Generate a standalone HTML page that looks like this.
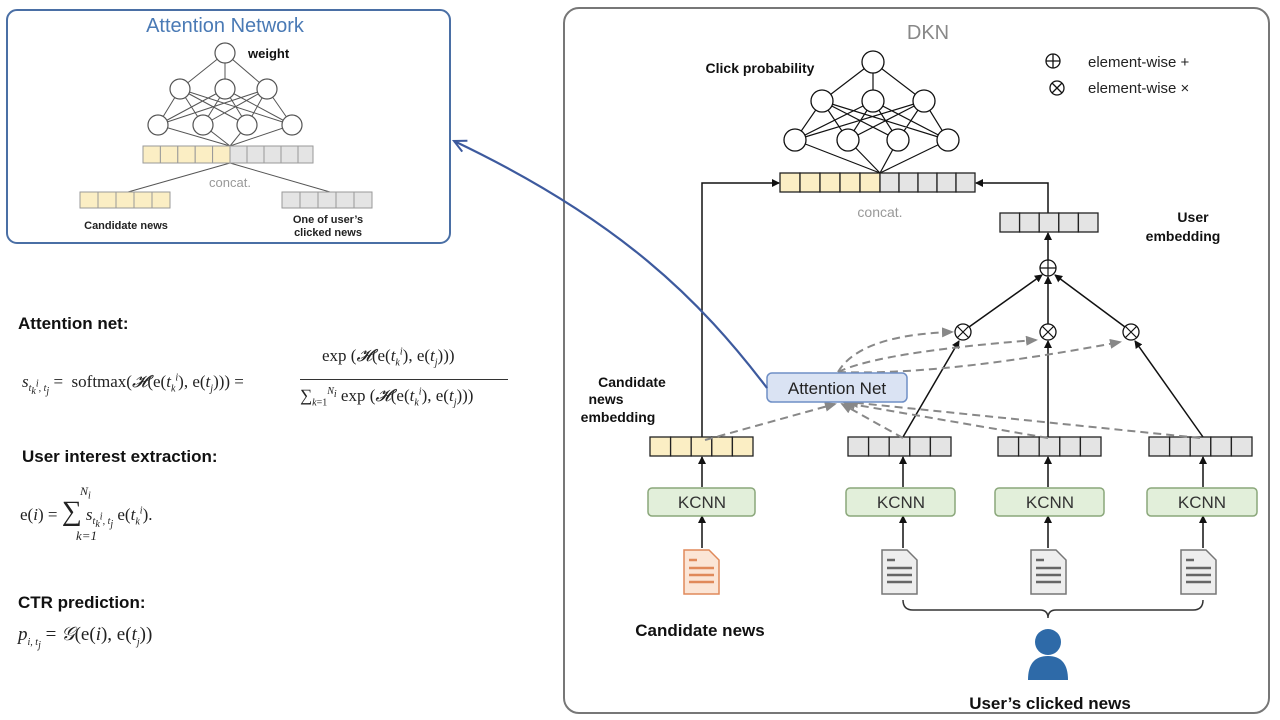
<!DOCTYPE html>
<html><head><meta charset="utf-8"><style>
body{margin:0;width:1280px;height:720px;background:#fff;position:relative;overflow:hidden;font-family:"Liberation Sans",sans-serif}
.f{position:absolute;font-family:"Liberation Serif",serif;color:#222;white-space:nowrap}
.h{position:absolute;font-weight:bold;font-size:17px;color:#111;white-space:nowrap}
sub,sup{font-size:10px}
</style></head><body>
<svg width="1280" height="720" style="position:absolute;left:0;top:0" font-family="Liberation Sans, sans-serif">
<defs>
<marker id="a" markerWidth="8" markerHeight="8" refX="7" refY="4" orient="auto" markerUnits="userSpaceOnUse"><path d="M0,0 L8,4 L0,8z" fill="#111"/></marker>
<marker id="g" markerWidth="12" markerHeight="10" refX="10" refY="5" orient="auto" markerUnits="userSpaceOnUse"><path d="M0,0 L12,5 L0,10z" fill="#888"/></marker>
<marker id="b" markerWidth="16" markerHeight="14" refX="13" refY="7" orient="auto" markerUnits="userSpaceOnUse"><path d="M1,1 L13,7 L1,13" fill="none" stroke="#3d5a9e" stroke-width="2"/></marker>
</defs>
<rect x="7" y="10" width="443" height="233" rx="10" fill="#fff" stroke="#4a6fa5" stroke-width="2"/>
<text x="225" y="32" text-anchor="middle" font-size="20" fill="#4a7ab5">Attention Network</text>
<g stroke="#555" stroke-width="1" fill="none">
<path d="M225,53 L180,89 M225,53 L225,89 M225,53 L267,89"/>
<path d="M180,89 L158,125 M180,89 L203,125 M180,89 L247,125 M180,89 L292,125 M225,89 L158,125 M225,89 L203,125 M225,89 L247,125 M225,89 L292,125 M267,89 L158,125 M267,89 L203,125 M267,89 L247,125 M267,89 L292,125"/>
<path d="M158,125 L230,146 M203,125 L230,146 M247,125 L230,146 M292,125 L230,146"/>
<path d="M128,192 L230,163 M330,192 L230,163"/>
</g>
<g fill="#fff" stroke="#555" stroke-width="1.2">
<circle cx="225" cy="53" r="10"/><circle cx="180" cy="89" r="10"/><circle cx="225" cy="89" r="10"/><circle cx="267" cy="89" r="10"/>
<circle cx="158" cy="125" r="10"/><circle cx="203" cy="125" r="10"/><circle cx="247" cy="125" r="10"/><circle cx="292" cy="125" r="10"/>
</g>
<text x="248" y="58" font-size="13" font-weight="bold" fill="#111">weight</text>
<g stroke="#999" stroke-width="1">
<rect x="143" y="146" width="17.4" height="17" fill="#fbeec4"/><rect x="160.4" y="146" width="17.4" height="17" fill="#fbeec4"/><rect x="177.8" y="146" width="17.4" height="17" fill="#fbeec4"/><rect x="195.2" y="146" width="17.4" height="17" fill="#fbeec4"/><rect x="212.6" y="146" width="17.4" height="17" fill="#fbeec4"/>
<rect x="230" y="146" width="17" height="17" fill="#e4e4e4"/><rect x="247" y="146" width="17" height="17" fill="#e4e4e4"/><rect x="264" y="146" width="17" height="17" fill="#e4e4e4"/><rect x="281" y="146" width="17" height="17" fill="#e4e4e4"/><rect x="298" y="146" width="15" height="17" fill="#e4e4e4"/>
<rect x="80" y="192" width="18" height="16" fill="#fbeec4"/><rect x="98" y="192" width="18" height="16" fill="#fbeec4"/><rect x="116" y="192" width="18" height="16" fill="#fbeec4"/><rect x="134" y="192" width="18" height="16" fill="#fbeec4"/><rect x="152" y="192" width="18" height="16" fill="#fbeec4"/>
<rect x="282" y="192" width="18" height="16" fill="#e4e4e4"/><rect x="300" y="192" width="18" height="16" fill="#e4e4e4"/><rect x="318" y="192" width="18" height="16" fill="#e4e4e4"/><rect x="336" y="192" width="18" height="16" fill="#e4e4e4"/><rect x="354" y="192" width="18" height="16" fill="#e4e4e4"/>
</g>
<text x="230" y="187" text-anchor="middle" font-size="13" fill="#999">concat.</text>
<text x="126" y="229" text-anchor="middle" font-size="11" font-weight="bold" fill="#222">Candidate news</text>
<text x="328" y="223" text-anchor="middle" font-size="11" font-weight="bold" fill="#222">One of user’s</text>
<text x="328" y="236" text-anchor="middle" font-size="11" font-weight="bold" fill="#222">clicked news</text>

<rect x="564" y="8" width="705" height="705" rx="15" fill="none" stroke="#777" stroke-width="2"/>
<text x="928" y="39" text-anchor="middle" font-size="20" fill="#888">DKN</text>
<text x="760" y="73" text-anchor="middle" font-size="14" font-weight="bold" fill="#111">Click probability</text>
<g stroke="#111" stroke-width="1.2" fill="none">
<path d="M873,62 L822,101 M873,62 L873,101 M873,62 L924,101"/>
<path d="M822,101 L795,140 M822,101 L848,140 M822,101 L898,140 M822,101 L948,140 M873,101 L795,140 M873,101 L848,140 M873,101 L898,140 M873,101 L948,140 M924,101 L795,140 M924,101 L848,140 M924,101 L898,140 M924,101 L948,140"/>
<path d="M795,140 L880,173 M848,140 L880,173 M898,140 L880,173 M948,140 L880,173"/>
</g>
<g fill="#fff" stroke="#111" stroke-width="1.3">
<circle cx="873" cy="62" r="11"/><circle cx="822" cy="101" r="11"/><circle cx="873" cy="101" r="11"/><circle cx="924" cy="101" r="11"/>
<circle cx="795" cy="140" r="11"/><circle cx="848" cy="140" r="11"/><circle cx="898" cy="140" r="11"/><circle cx="948" cy="140" r="11"/>
</g>
<g stroke="#111" stroke-width="1.3" fill="none">
<circle cx="1053" cy="61" r="7"/><path d="M1046,61 H1060 M1053,54 V68"/>
<circle cx="1057" cy="88" r="7"/><path d="M1052,83 L1062,93 M1062,83 L1052,93"/>
</g>
<text x="1088" y="67" font-size="15" fill="#222">element-wise +</text>
<text x="1088" y="93" font-size="15" fill="#222">element-wise ×</text>
<g stroke="#222" stroke-width="1.3">
<rect x="780" y="173" width="20" height="19" fill="#fbeec4"/><rect x="800" y="173" width="20" height="19" fill="#fbeec4"/><rect x="820" y="173" width="20" height="19" fill="#fbeec4"/><rect x="840" y="173" width="20" height="19" fill="#fbeec4"/><rect x="860" y="173" width="20" height="19" fill="#fbeec4"/>
<rect x="880" y="173" width="19" height="19" fill="#e4e4e4"/><rect x="899" y="173" width="19" height="19" fill="#e4e4e4"/><rect x="918" y="173" width="19" height="19" fill="#e4e4e4"/><rect x="937" y="173" width="19" height="19" fill="#e4e4e4"/><rect x="956" y="173" width="19" height="19" fill="#e4e4e4"/>
</g>
<text x="880" y="217" text-anchor="middle" font-size="14" fill="#999">concat.</text>
<g stroke="#111" stroke-width="1.5" fill="none">
<path d="M702,437 V183 H779" marker-end="url(#a)"/>
<path d="M1048,213 V183 H976" marker-end="url(#a)"/>
<path d="M1048,260 V233" marker-end="url(#a)"/>
<path d="M969,327 L1042,275" marker-end="url(#a)"/>
<path d="M1048,324 V277" marker-end="url(#a)"/>
<path d="M1125,327 L1055,275" marker-end="url(#a)"/>
<path d="M903,437 L959,341" marker-end="url(#a)"/>
<path d="M1048,437 V341" marker-end="url(#a)"/>
<path d="M1203,437 L1135,341" marker-end="url(#a)"/>
<path d="M702,487 V457" marker-end="url(#a)"/><path d="M903,487 V457" marker-end="url(#a)"/><path d="M1048,487 V457" marker-end="url(#a)"/><path d="M1203,487 V457" marker-end="url(#a)"/>
<path d="M702,548 V516" marker-end="url(#a)"/><path d="M903,548 V516" marker-end="url(#a)"/><path d="M1048,548 V516" marker-end="url(#a)"/><path d="M1203,548 V516" marker-end="url(#a)"/>
</g>
<g stroke="#222" stroke-width="1.3" fill="#e4e4e4">
<rect x="1000" y="213" width="19.6" height="19"/><rect x="1019.6" y="213" width="19.6" height="19"/><rect x="1039.2" y="213" width="19.6" height="19"/><rect x="1058.8" y="213" width="19.6" height="19"/><rect x="1078.4" y="213" width="19.6" height="19"/>
</g>
<text x="1193" y="222" text-anchor="middle" font-size="14" font-weight="bold" fill="#111">User</text>
<text x="1183" y="241" text-anchor="middle" font-size="14" font-weight="bold" fill="#111">embedding</text>
<g stroke="#111" stroke-width="1.3" fill="#fff">
<circle cx="1048" cy="268" r="8"/><circle cx="963" cy="332" r="8"/><circle cx="1048" cy="332" r="8"/><circle cx="1131" cy="332" r="8"/>
</g>
<g stroke="#111" stroke-width="1.2"><path d="M1040,268 H1056 M1048,260 V276"/>
<path d="M957,326 L969,338 M969,326 L957,338 M1042,326 L1054,338 M1054,326 L1042,338 M1125,326 L1137,338 M1137,326 L1125,338"/></g>
<g stroke="#222" stroke-width="1.3">
<g fill="#fbeec4"><rect x="650" y="437" width="20.6" height="19"/><rect x="670.6" y="437" width="20.6" height="19"/><rect x="691.2" y="437" width="20.6" height="19"/><rect x="711.8" y="437" width="20.6" height="19"/><rect x="732.4" y="437" width="20.6" height="19"/></g>
<g fill="#e4e4e4">
<rect x="848" y="437" width="20.6" height="19"/><rect x="868.6" y="437" width="20.6" height="19"/><rect x="889.2" y="437" width="20.6" height="19"/><rect x="909.8" y="437" width="20.6" height="19"/><rect x="930.4" y="437" width="20.6" height="19"/>
<rect x="998" y="437" width="20.6" height="19"/><rect x="1018.6" y="437" width="20.6" height="19"/><rect x="1039.2" y="437" width="20.6" height="19"/><rect x="1059.8" y="437" width="20.6" height="19"/><rect x="1080.4" y="437" width="20.6" height="19"/>
<rect x="1149" y="437" width="20.6" height="19"/><rect x="1169.6" y="437" width="20.6" height="19"/><rect x="1190.2" y="437" width="20.6" height="19"/><rect x="1210.8" y="437" width="20.6" height="19"/><rect x="1231.4" y="437" width="20.6" height="19"/>
</g></g>
<text x="632" y="387" text-anchor="middle" font-size="14" font-weight="bold" fill="#111">Candidate</text>
<text x="606" y="404" text-anchor="middle" font-size="14" font-weight="bold" fill="#111">news</text>
<text x="618" y="422" text-anchor="middle" font-size="14" font-weight="bold" fill="#111">embedding</text>
<g stroke="#888" stroke-width="2" fill="none" stroke-dasharray="8,5">
<path d="M705,440 L835,404" marker-end="url(#g)"/>
<path d="M903,438 L842,404" marker-end="url(#g)"/>
<path d="M1048,438 L845,403" marker-end="url(#g)"/>
<path d="M1200,438 L848,402" marker-end="url(#g)"/>
<path d="M838,372 Q860,335 952,332" marker-end="url(#g)"/>
<path d="M838,372 Q880,352 1036,340" marker-end="url(#g)"/>
<path d="M838,372 Q940,376 1120,342" marker-end="url(#g)"/>
</g>
<rect x="767" y="373" width="140" height="29" rx="5" fill="#dae3f3" stroke="#6f8fc6" stroke-width="1.5"/>
<text x="837" y="394" text-anchor="middle" font-size="17" fill="#222">Attention Net</text>
<path d="M767,388 C700,300 620,220 454,141" fill="none" stroke="#3d5a9e" stroke-width="2.2" marker-end="url(#b)"/>
<g fill="#e2efda" stroke="#8aa77a" stroke-width="1.5">
<rect x="648" y="488" width="107" height="28" rx="4"/><rect x="846" y="488" width="109" height="28" rx="4"/><rect x="995" y="488" width="109" height="28" rx="4"/><rect x="1147" y="488" width="110" height="28" rx="4"/>
</g>
<g font-size="17" fill="#333" text-anchor="middle"><text x="702" y="508">KCNN</text><text x="901" y="508">KCNN</text><text x="1050" y="508">KCNN</text><text x="1202" y="508">KCNN</text></g>
<g stroke-width="1.5">
<path d="M684,550 H709 L719,560 V594 H684z" fill="#fbe5d6" stroke="#e0895a"/>
<path d="M882,550 H907 L917,560 V594 H882z" fill="#eee" stroke="#777"/>
<path d="M1031,550 H1056 L1066,560 V594 H1031z" fill="#eee" stroke="#777"/>
<path d="M1181,550 H1206 L1216,560 V594 H1181z" fill="#eee" stroke="#777"/>
</g>
<g stroke-width="2.5"><path d="M689,560 H697 M689,568 H714 M689,575 H714 M689,582 H714" stroke="#e0895a"/>
<path d="M887,560 H895 M887,568 H912 M887,575 H912 M887,582 H912 M1036,560 H1044 M1036,568 H1061 M1036,575 H1061 M1036,582 H1061 M1186,560 H1194 M1186,568 H1211 M1186,575 H1211 M1186,582 H1211" stroke="#666"/></g>
<path d="M903,600 Q903,610 913,610 H1040 Q1048,610 1048,618 Q1048,610 1056,610 H1193 Q1203,610 1203,600" fill="none" stroke="#333" stroke-width="1.5"/>
<circle cx="1048" cy="642" r="13" fill="#2e6aa8"/><path d="M1028,680 Q1028,656 1048,656 Q1068,656 1068,680z" fill="#2e6aa8"/>
<text x="700" y="636" text-anchor="middle" font-size="17" font-weight="bold" fill="#111">Candidate news</text>
<text x="1050" y="709" text-anchor="middle" font-size="17" font-weight="bold" fill="#111">User’s clicked news</text>
</svg>
<div class="h" style="left:18px;top:314px">Attention net:</div>
<div class="f" style="left:22px;top:372px;font-size:17px"><i>s</i><sub><i>t<sub>k</sub><sup>i</sup>, t<sub>j</sub></i></sub> = &nbsp;softmax(<i>𝓗</i>(e(<i>t<sub>k</sub><sup>i</sup></i>), e(<i>t<sub>j</sub></i>))) =</div>
<div class="f" style="left:322px;top:346px;font-size:17px">exp (<i>𝓗</i>(e(<i>t<sub>k</sub><sup>i</sup></i>), e(<i>t<sub>j</sub></i>)))</div>
<div style="position:absolute;left:300px;top:379px;width:208px;border-top:1px solid #333"></div>
<div class="f" style="left:300px;top:386px;font-size:17px">∑<sub><i>k</i>=1</sub><sup><i>N<sub>i</sub></i></sup> exp (<i>𝓗</i>(e(<i>t<sub>k</sub><sup>i</sup></i>), e(<i>t<sub>j</sub></i>)))</div>
<div class="h" style="left:22px;top:447px">User interest extraction:</div>
<div class="f" style="top:484px;font-size:12px;font-style:italic;left:80px">N<sub>i</sub></div>
<div class="f" style="left:20px;top:496px;font-size:17px">e(<i>i</i>) = <span style="font-size:28px">∑</span> <i>s</i><sub><i>t<sub>k</sub><sup>i</sup>, t<sub>j</sub></i></sub> e(<i>t<sub>k</sub><sup>i</sup></i>).</div>
<div class="f" style="left:76px;top:528px;font-size:13px;font-style:italic">k=1</div>
<div class="h" style="left:18px;top:593px">CTR prediction:</div>
<div class="f" style="left:18px;top:624px;font-size:19px"><i>p<sub>i, t<sub>j</sub></sub></i> = <i>𝒢</i>(e(<i>i</i>), e(<i>t<sub>j</sub></i>))</div>
</body></html>
